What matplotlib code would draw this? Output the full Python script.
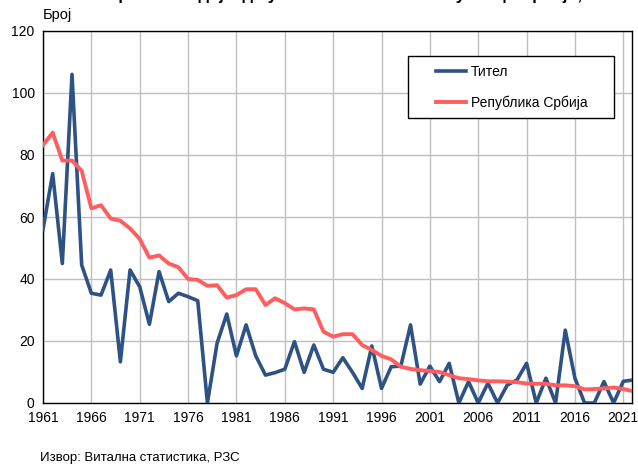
import matplotlib
matplotlib.use("Agg")
import matplotlib.pyplot as plt
from matplotlib.patches import Rectangle

plt.rcParams['font.family'] = ['Liberation Sans', 'DejaVu Sans']

years = list(range(1961, 2023))
titel = [56, 74, 45, 106, 44.5, 35.4, 34.8, 42.9, 13.3, 42.9,
         37.5, 25.4, 42.4, 32.7, 35.4, 34.3, 33, 0, 19.3, 28.7,
         15.2, 25.2, 15.2, 9, 9.8, 10.9, 19.8, 9.9, 18.7, 10.9,
         9.9, 14.6, 9.9, 4.7, 18.4, 4.7, 11.7, 11.9, 25.2, 6.1,
         11.9, 6.9, 12.8, 0, 6.9, 0, 6.4, 0, 5.8, 7.4,
         12.8, 0, 8, 0, 23.5, 8, 0, 0, 6.9, 0,
         7, 7.4]
srbija = [83.2, 87.2, 78.2, 78.2, 74.9, 62.8, 63.8, 59.5, 58.8, 56.3,
          52.9, 46.9, 47.6, 45, 43.8, 40, 39.7, 37.8, 38, 34,
          34.8, 36.7, 36.7, 31.6, 33.8, 32.2, 30.2, 30.5, 30.2, 23,
          21.4, 22.2, 22.2, 18.7, 17.1, 15.2, 14.1, 11.7, 11, 10.6,
          10.3, 10, 9, 8, 7.7, 7.3, 7, 7, 6.9, 6.7,
          6.3, 6.2, 6.2, 5.7, 5.7, 5.4, 4.4, 4.5, 4.7, 5,
          4.5, 3.8]
series_names = ["Тител", "Република Србија"]
xtick_years = list(range(1961, 2022, 5))
yticks = [0, 20, 40, 60, 80, 100, 120]

W, H = 638, 466
fig = plt.figure(figsize=(W/100, H/100), dpi=100)
L, R, T, B = 43, 632, 31, 403
ax = fig.add_axes([L/W, 1-B/H, (R-L)/W, (B-T)/H])

def axx(px):
    return (px - L) / (R - L)

def axy(py):
    return (B - py) / (B - T)

ax.plot(years, titel, color='#2E5283', lw=2.6, label=series_names[0], zorder=3)
ax.plot(years, srbija, color='#FF5E5E', lw=2.8, label=series_names[1], zorder=3)

ax.set_xlim(1961, 2021.9)
ax.set_ylim(0, 120)
ax.set_xticks(xtick_years)
ax.set_xticklabels([str(y) for y in xtick_years], fontsize=10)
ax.set_yticks(yticks)
ax.set_yticklabels([str(v) for v in yticks], fontsize=10)
ax.tick_params(length=0, pad=6)
ax.grid(True, color='#BFBFBF', lw=1)
ax.set_axisbelow(True)
for s in ax.spines.values():
    s.set_color('black')
    s.set_linewidth(1)

# legend frame
ax.add_patch(Rectangle((axx(408), axy(118)), axx(614) - axx(408), axy(56) - axy(118),
                       transform=ax.transAxes, facecolor='white', edgecolor='black',
                       lw=1, zorder=4, clip_on=False))
leg = ax.legend(loc='center left', bbox_to_anchor=(axx(436), axy(87.5)),
                frameon=False, fontsize=10, borderpad=0, borderaxespad=0,
                handlelength=2.15, labelspacing=1.2, handletextpad=0.38)
leg.set_zorder(5)

fig.text(L/W, 1-19/H, "Број", fontsize=10.5, ha='left', va='baseline')
fig.text(L/W, 1.0, "Стопа смртности одојчади у општини Тител и Републици Србији, 1961–2022",
         fontsize=12, fontweight='bold', ha='left', va='baseline')
fig.text(40/W, 1-461/H, "Извор: Витална статистика, РЗС", fontsize=9.5, ha='left', va='baseline')

fig.savefig("out.png", dpi=100)
